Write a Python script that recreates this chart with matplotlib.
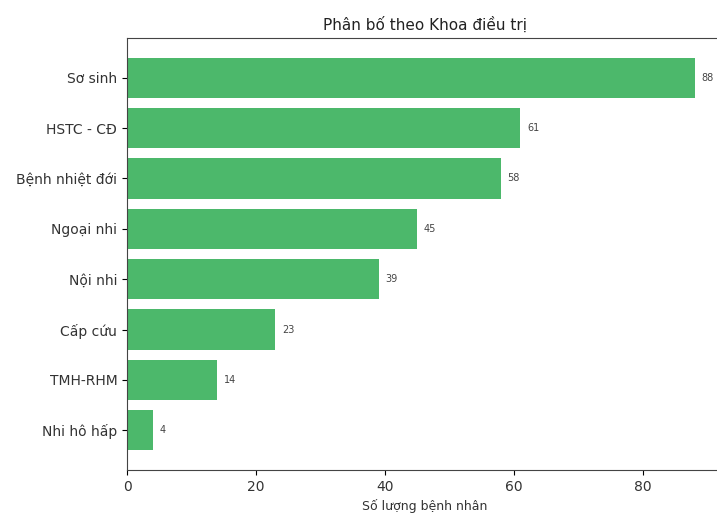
import matplotlib
matplotlib.use("Agg")
import matplotlib.pyplot as plt

departments = ["Sơ sinh", "HSTC - CĐ", "Bệnh nhiệt đới", "Ngoại nhi",
               "Nội nhi", "Cấp cứu", "TMH-RHM", "Nhi hô hấp"]
patients = [88, 61, 58, 45, 39, 23, 14, 4]
xticks = [0, 20, 40, 60, 80]

plt.rcParams["font.family"] = ["DejaVu Sans"]

W, H = 717, 518
fig = plt.figure(figsize=(W / 100, H / 100), dpi=100)
ax = fig.add_axes([127 / W, 1 - 470 / H, (723 - 127) / W, (470 - 38) / H])

# largest department at the top
y = list(range(len(departments)))[::-1]
ax.barh(y, patients, height=0.8, color="#4cb86b")
for yi, v in zip(y, patients):
    ax.text(v + 1.0, yi, str(v), va="center", ha="left", fontsize=7, color="#444444")

ax.set_yticks(y)
ax.set_yticklabels(departments, fontsize=10, color="#333333")
ax.set_xticks(xticks)
ax.tick_params(axis="x", labelsize=10, labelcolor="#333333")
ax.set_xlim(0, 88 * 1.05)
ax.set_xlabel("Số lượng bệnh nhân", fontsize=9, color="#333333")
ax.set_title("Phân bố theo Khoa điều trị", fontsize=11, color="#222222")
for s in ax.spines.values():
    s.set_color("#444444")

fig.savefig("out.png", dpi=100)
